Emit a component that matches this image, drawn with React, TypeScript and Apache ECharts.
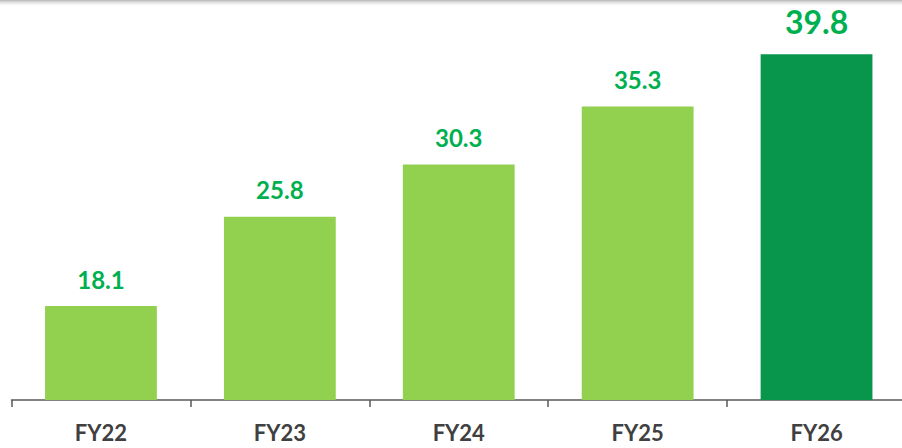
import React, { useEffect, useRef } from "react";
import * as echarts from "echarts";

const categories = ["FY22", "FY23", "FY24", "FY25", "FY26"];
const values = [18.1, 25.8, 30.3, 35.3, 39.8];
const barColors = ["#92D050", "#92D050", "#92D050", "#92D050", "#07964B"];
const labelSizes = [24, 24, 24, 24, 32];

export default function App() {
  const ref = useRef<HTMLDivElement>(null);
  useEffect(() => {
    if (!ref.current) return;
    const chart = echarts.init(ref.current, null, { renderer: "svg" });
    chart.setOption({
      animation: false,
      backgroundColor: "#ffffff",
      grid: { left: 11.5, right: 0, top: 52, bottom: 48, containLabel: false },
      xAxis: {
        type: "category",
        data: categories,
        axisLine: { show: true, lineStyle: { color: "#595959", width: 1.5 } },
        axisTick: { show: true, alignWithLabel: false, length: 7, lineStyle: { color: "#595959", width: 1.5 } },
        axisLabel: {
          color: "#404040",
          fontFamily: "Lato",
          fontWeight: "bold",
          fontSize: 22,
          margin: 21,
        },
      },
      yAxis: {
        type: "value",
        min: 10,
        max: 40,
        show: false,
        splitLine: { show: false },
      },
      graphic: [
        {
          type: "rect",
          left: 0,
          top: 0,
          shape: { width: 906, height: 7 },
          style: {
            fill: new echarts.graphic.LinearGradient(0, 0, 0, 1, [
              { offset: 0, color: "rgba(120,120,120,0.55)" },
              { offset: 1, color: "rgba(255,255,255,0)" },
            ]),
          },
          z: 10,
        },
      ],
      series: [
        {
          type: "bar",
          barWidth: "62.5%",
          data: values.map((v, i) => ({
            value: v,
            itemStyle: { color: barColors[i] },
            label: { fontSize: labelSizes[i], distance: i === 4 ? 17 : 15 },
          })),
          label: {
            show: true,
            position: "top",
            color: "#00B050",
            fontFamily: "Lato",
            fontWeight: "bold",
          },
        },
      ],
    });
    return () => chart.dispose();
  }, []);
  return (
    <div style={{ position: "fixed", left: 0, top: 0, width: 902, height: 448, overflow: "hidden" }}>
      <div ref={ref} style={{ width: 906, height: 448 }} />
    </div>
  );
}
